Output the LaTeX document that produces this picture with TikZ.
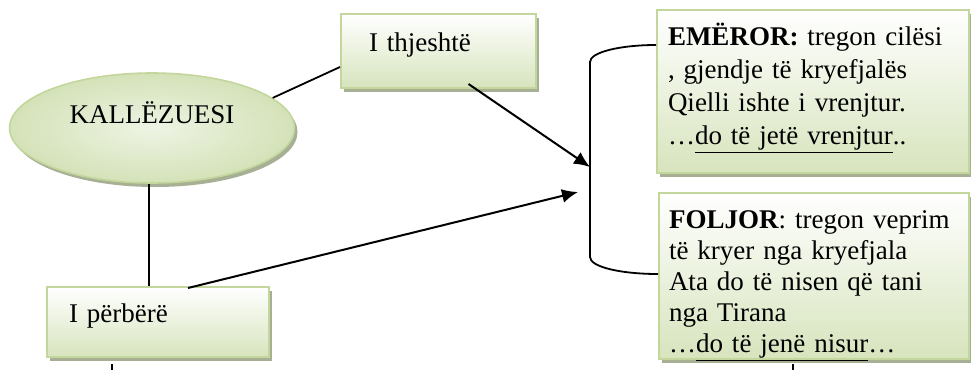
\documentclass[tikz,border=0pt]{standalone}
\usepackage{fontspec}
\setmainfont{Liberation Serif}
\usetikzlibrary{arrows.meta,positioning,calc,shapes.geometric,shadows}
\definecolor{kalEdge}{HTML}{C3D69B}
\definecolor{kalFill}{HTML}{D7E4BD}
\definecolor{kalPale}{HTML}{EEF4E4}
\definecolor{kalShade}{HTML}{A7B095}

\begin{document}
\begin{tikzpicture}[x=0.5pt,y=-0.5pt,
    font=\fontsize{13.5}{15.5}\selectfont,
    wire/.style={line width=0.9pt},
    link/.style={line width=1pt,-{Latex[length=8pt,width=7pt]}},
    greenbox/.style={draw=kalEdge,line width=1pt,top color=white,bottom color=kalFill,
                     anchor=north west,align=left,inner ysep=0pt,
                     drop shadow={shadow xshift=1.5pt,shadow yshift=-2pt,fill=kalShade,opacity=1}},
    oval/.style={ellipse,draw=kalEdge,line width=0.8pt,inner color=kalPale,
                 outer color=kalFill!85!kalEdge,minimum width=142.5pt,minimum height=55pt,
                 inner sep=0pt,
                 drop shadow={shadow xshift=1.5pt,shadow yshift=-2pt,fill=kalShade,opacity=1}}]

  \useasboundingbox (0,0) rectangle (971,370);

  \node[oval,text height=0pt,text depth=4.5pt] (kal) at (152,128) {KALLËZUESI};
  \node[greenbox,text width=69.5pt,inner xsep=14pt,minimum height=37pt,
        text height=0pt,text depth=0pt] (thj) at (340,13) {I thjeshtë};
  \node[greenbox,text width=89pt,inner xsep=11pt,minimum height=35pt,
        text height=0pt,text depth=0pt] (per) at (46,286) {I përbërë};

  \node[greenbox,text width=145pt,inner xsep=5.5pt,text height=17.5pt,text depth=64pt,
        font=\fontsize{13.5}{16.5}\selectfont] (em) at (656,9) {%
    \textbf{EMËROR:} tregon cilësi\\
    , gjendje të kryefjalës\\
    Qielli ishte i vrenjtur.\\
    …\underline{do të jetë vrenjtur}..};
  \node[greenbox,text width=145pt,inner xsep=5pt,text height=17.5pt,text depth=65.5pt] (fol) at (658,192) {%
    \textbf{FOLJOR}: tregon veprim\\
    të kryer nga kryefjala\\
    Ata do të nisen që tani\\
    nga Tirana\\
    …\underline{do të jenë nisur}…};

  % lidhjet
  \coordinate (kalFoot) at ($(kal.south)+(-3,0)$);
  \draw[wire] (kal.14) -- ([yshift=-8pt]thj.west);
  \draw[wire] (kalFoot) -- (kalFoot |- per.north);

  \coordinate (brkA) at (590,167);
  \coordinate (brkB) at (578,192);
  \draw[link] ($(thj.south)+(30,-5)$) -- (brkA);
  \draw[link] ($(per.north)+(30,2)$) -- (brkB);

  % kllapa
  \coordinate (brkTop) at ($(em.north west)+(0,36)$);
  \coordinate (brkBot) at ($(fol.north west)+(0,82)$);
  \draw[wire] (brkTop) .. controls (621,45) and (590,52) .. (590,62) -- (590,257)
              .. controls (590,267) and (621,274) .. (brkBot);

  \coordinate (perTail) at (112,372);
  \coordinate (folTail) at (793,372);
  \draw[wire] (perTail) -- ($(perTail |- per.south)+(0,6)$);
  \draw[wire] (folTail) -- ($(folTail |- fol.south)+(0,4)$);
\end{tikzpicture}
\end{document}
